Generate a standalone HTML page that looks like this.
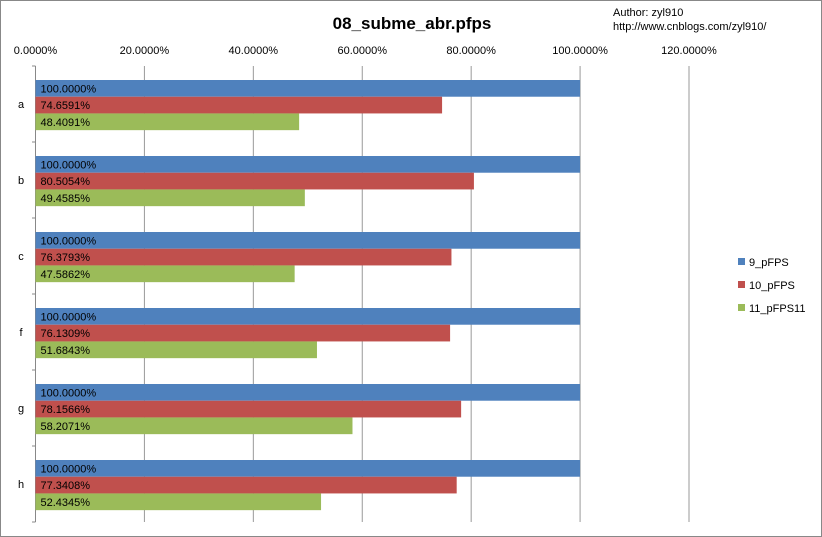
<!DOCTYPE html>
<html><head><meta charset="utf-8"><style>
body{margin:0;background:#fff}
svg{display:block;font-family:"Liberation Sans",sans-serif}
</style></head><body>
<svg id="c" width="822" height="537" xmlns="http://www.w3.org/2000/svg">
<rect x="0.5" y="0.5" width="821" height="536" fill="#fff" stroke="#888"/>
<text x="412" y="29" font-size="17" font-weight="bold" text-anchor="middle">08_subme_abr.pfps</text>
<text x="613" y="16" font-size="11">Author: zyl910</text>
<text x="613" y="30" font-size="11">http://www.cnblogs.com/zyl910/</text>
<g id="grid"></g><g id="bars"></g><g id="legend"></g>
</svg>
<script>
const categories=["a","b","c","f","g","h"];
const seriesNames=["9_pFPS","10_pFPS","11_pFPS11"];
const s9=[100,100,100,100,100,100];
const s10=[74.6591,80.5054,76.3793,76.1309,78.1566,77.3408];
const s11=[48.4091,49.4585,47.5862,51.6843,58.2071,52.4345];
const ticks=[0,20,40,60,80,100,120];
const colors=["#4f81bd","#c0504d","#9bbb59"];
const NS="http://www.w3.org/2000/svg";
const X0=35.5,X1=689,Y0=66,Y1=522;
const x=v=>X0+(v/120)*(X1-X0);
const band=(Y1-Y0)/categories.length;
function mk(t,a,p){const e=document.createElementNS(NS,t);for(const k in a)e.setAttribute(k,a[k]);p.appendChild(e);return e;}
const g=document.getElementById('grid'),b=document.getElementById('bars'),lg=document.getElementById('legend');
ticks.forEach(t=>{
 const l=mk('line',{x1:x(t),x2:x(t),y1:Y0,y2:Y1,stroke:t===0?'#888':'#999','stroke-width':1},g);
 
 
 const tx=mk('text',{x:x(t),y:54,'font-size':11,'text-anchor':'middle'},g);
 tx.textContent=t.toFixed(4)+'%';
 
 
});
for(let i=0;i<=categories.length;i++){
 const tk=mk('line',{x1:32,x2:X0,y1:Y0+i*band,y2:Y0+i*band,stroke:'#888'},g);
 
 
}
const series=[s9,s10,s11];
const bh=band*0.22,off=14;
categories.forEach((c,i)=>{
 const top=Y0+i*band;
 const cl=mk('text',{x:21,y:top+band/2+4,'font-size':11,'text-anchor':'middle'},g);
 cl.textContent=c;
 
 
 series.forEach((s,j)=>{
  const y=top+off+j*bh;
  const r=mk('rect',{x:X0,y:y,width:x(s[i])-X0,height:bh,fill:colors[j]},b);
  
  
  const t=mk('text',{x:X0+5,y:y+bh/2+4,'font-size':11,fill:'#000'},b);
  t.textContent=s[i].toFixed(4)+'%';
  
  
 });
});
seriesNames.forEach((n,j)=>{
 const y=262+j*23;
 const r=mk('rect',{x:738,y:y-4,width:7,height:7,fill:colors[j]},lg);
 
 
 const t=mk('text',{x:749,y:y+4,'font-size':11},lg);
 t.textContent=n;
 
 
});
</script>
</body></html>
